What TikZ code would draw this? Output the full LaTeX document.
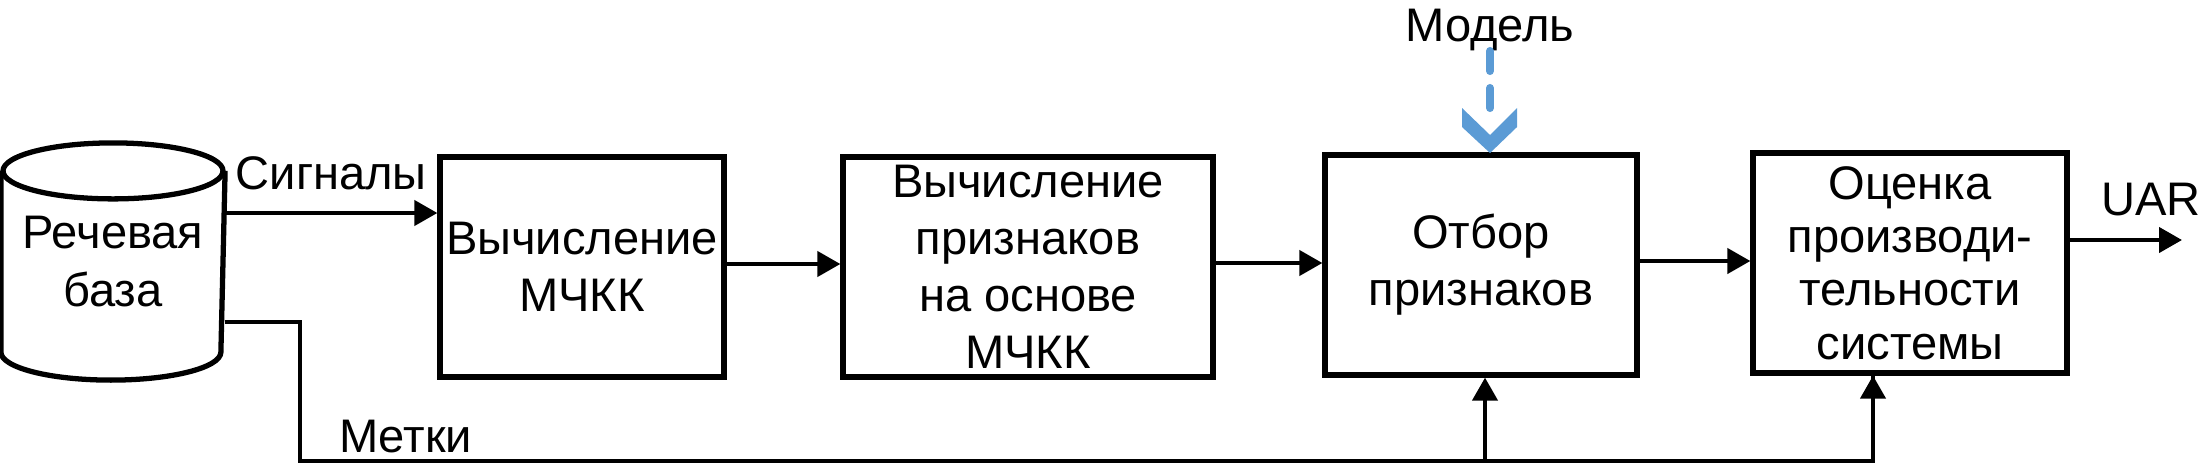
\documentclass[tikz,border=0pt]{standalone}
\usepackage{fontspec}
\setmainfont{Liberation Sans}
\usetikzlibrary{arrows.meta}

\definecolor{modelblue}{HTML}{5B9BD5}

\begin{document}
\begin{tikzpicture}[>={Triangle[length=2.3mm,width=2.5mm]}, line width=1.2pt,
	block/.style={draw, line width=1.5pt, align=center, inner sep=0pt,
		minimum height=2.2cm, font=\fontsize{13.4}{16.2}\selectfont},
	lbl/.style={font=\fontsize{13.4}{16}\selectfont, inner sep=0pt}]
			
			\useasboundingbox (0,0) rectangle (22.03,4.67);
			
			\node[align=center, inner sep=0pt, minimum width=2.2cm, minimum height=2.33cm,
			font=\fontsize{13.4}{16.5}\selectfont] (base) at (1.13,2.055) {Речевая\\база};
			\draw[line width=1.5pt] ([yshift=-0.28cm]base.north) ellipse[x radius=1.1cm, y radius=0.28cm];
			\draw[line width=1.5pt] ([yshift=-0.28cm]base.north west) -- ([yshift=0.28cm]base.south west)
			arc[start angle=180, end angle=360, x radius=1.1cm, y radius=0.28cm]
			-- ([yshift=-0.28cm]base.north east);
			
			\node[block, minimum width=2.84cm] (mchkk) at (5.82,2.00)
			{Вычисление\\МЧКК};
			\node[block, minimum width=3.70cm] (feat) at (10.28,2.00)
			{Вычисление\\признаков\\на основе\\МЧКК};
			\node[block, minimum width=3.12cm] (select) at (14.81,2.02)
			{Отбор\\признаков};
			\node[block, minimum width=3.14cm, font=\fontsize{13.4}{15.2}\selectfont] (score) at (19.10,2.04)
			{Оценка\\производи-\\тельности\\системы};
			
			\node[lbl, anchor=north] (model) at (14.90,4.60) {Модель};
			\node[lbl, anchor=east] (uar) at (22.03,2.67) {UAR};
			
			\coordinate (out) at (21.82,2.27);
			\coordinate (turn) at (3.00,1.45);
			\coordinate (bottom) at (3.00,0.06);
			\coordinate (tip) at (14.90,3.14);
			
			\draw[->] (base.east |- 0,2.54) -- (mchkk.west |- 0,2.54)
			node[lbl, midway, above=6pt] (signals) {Сигналы};
			\draw[->] (mchkk.east |- 0,2.03) -- (feat.west |- 0,2.03);
			\draw[->] (feat.east |- 0,2.04) -- (select.west |- 0,2.04);
			\draw[->] (select.east |- 0,2.06) -- (score.west |- 0,2.06);
			\draw[->] (score.east |- out) -- (out);
			
			\draw (base.east |- turn) -- (turn) -- (bottom) -| ([xshift=-3.7mm]score.south);
			\draw[->] (bottom -| 14.85,0) -- (14.85,0 |- select.south);
			\draw[->] ([xshift=-3.7mm]score.south |- bottom) -- ([xshift=-3.7mm]score.south);
			\node[lbl, anchor=south west] (labels) at (3.37,0.12) {Метки};
			
			\draw[modelblue, line width=2.3pt, line cap=round, dash pattern=on 0.2cm off 0.17cm]
			(14.90,4.16) -- (14.90,3.50);
			\fill[modelblue] (14.62,3.59) -- (14.62,3.40) -- (tip) -- (15.17,3.40)
			-- (15.17,3.59) -- (14.90,3.32) -- cycle;
			
	\end{tikzpicture}
\end{document}
